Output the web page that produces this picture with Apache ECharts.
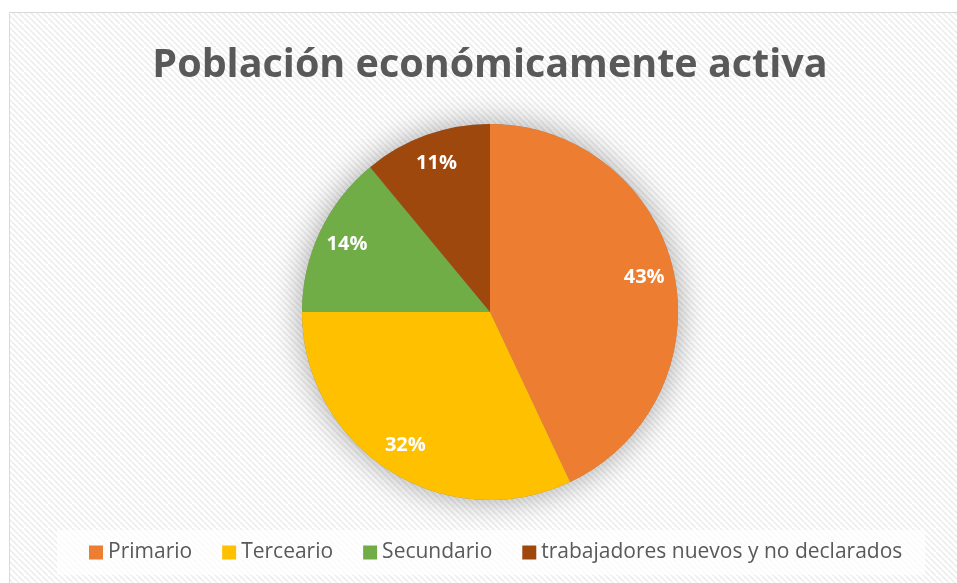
<!DOCTYPE html>
<html>
<head>
<meta charset="utf-8">
<script src="https://cdn.jsdelivr.net/npm/echarts@6/dist/echarts.min.js"></script>
<style>
html,body{margin:0;padding:0;background:#fff;}
#chart{width:957px;height:583px;}
</style>
</head>
<body>
<div id="chart"></div>
<script>
const titleText = 'Población económicamente activa';
const categories = ['Primario', 'Terceario', 'Secundario', 'trabajadores nuevos y no declarados'];
const values = [43, 32, 14, 11];
const colors = ['#ED7D31', '#FFC000', '#70AD47', '#9E480E'];

// hatch pattern
const pc = document.createElement('canvas');
pc.width = 6; pc.height = 6;
const g = pc.getContext('2d');
g.fillStyle = '#ffffff'; g.fillRect(0,0,6,6);
g.strokeStyle = '#ededed'; g.lineWidth = 1.6;
for (const k of [-6, 0, 6]) { g.beginPath(); g.moveTo(k, 0); g.lineTo(k + 6, 6); g.stroke(); }

const data = categories.map((c, i) => ({ name: c, value: values[i], itemStyle: { color: colors[i] } }));

const chart = echarts.init(document.getElementById('chart'), null, { renderer: 'canvas' });
chart.setOption({
  backgroundColor: '#ffffff',
  animation: false,
  graphic: [{
    type: 'rect', z: -10, silent: true,
    shape: { x: 9.5, y: 12.5, width: 1000, height: 1000 },
    style: { fill: { image: pc, repeat: 'repeat' }, stroke: '#d9d9d9', lineWidth: 1 }
  }],
  title: {
    text: titleText,
    left: 485, top: 41, textAlign: 'center',
    textStyle: { fontFamily: 'Open Sans', fontWeight: 'bold', fontSize: 39.5, color: '#595959' }
  },
  legend: {
    data: categories,
    left: 57, top: 530,
    orient: 'horizontal',
    itemWidth: 14, itemHeight: 14, itemGap: 30,
    icon: 'rect',
    padding: [12, 23, 12, 32],
    backgroundColor: 'rgba(255,255,255,0.7)',
    textStyle: { fontFamily: 'Open Sans', fontSize: 21, color: '#595959', lineHeight: 20 }
  },
  series: [
    {
      type: 'pie', silent: true, z: 1,
      center: [490, 312], radius: 188,
      startAngle: 90, clockwise: true,
      label: { show: false }, labelLine: { show: false },
      legendHoverLink: false,
      itemStyle: { color: '#888', shadowBlur: 32, shadowColor: 'rgba(0,0,0,0.35)' },
      data: values.map((v, i) => ({ name: '_' + i, value: v }))
    },
    {
      type: 'pie', z: 2,
      center: [490, 312], radius: 188,
      startAngle: 90, clockwise: true,
      label: { show: false }, labelLine: { show: false },
      itemStyle: { borderWidth: 0 },
      data: data
    },
    {
      type: 'pie', z: 3, silent: true,
      center: [490, 312], radius: [122, 188],
      startAngle: 90, clockwise: true,
      itemStyle: { color: 'rgba(0,0,0,0)' },
      label: {
        show: true, position: 'inside',
        formatter: p => p.value + '%',
        fontFamily: 'Open Sans', fontWeight: 'bold', fontSize: 20, color: '#ffffff'
      },
      labelLine: { show: false },
      data: values.map((v, i) => ({ name: '_l' + i, value: v }))
    }
  ]
});
</script>
</body>
</html>
